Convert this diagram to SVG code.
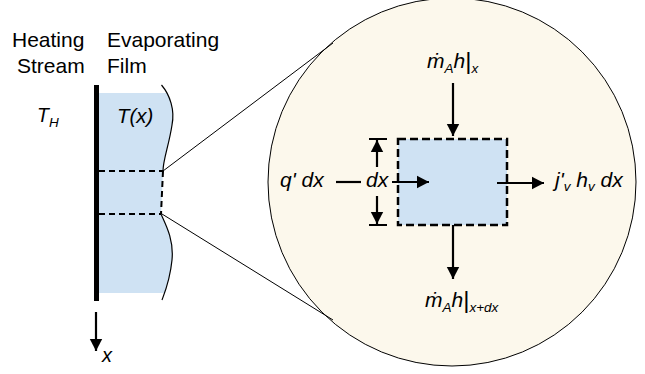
<svg xmlns="http://www.w3.org/2000/svg" width="645" height="374" viewBox="0 0 645 374">
<style>
.t{font-family:"Liberation Sans",Arial,sans-serif;fill:#000}
.i{font-style:italic}
.ln{stroke:#000;fill:none}
.dash{stroke:#000;fill:none;stroke-width:2;stroke-dasharray:6 4}
.arr{stroke:#000;stroke-width:2.2;fill:none;marker-end:url(#ah)}
</style>
<defs>
<marker id="ah" markerUnits="userSpaceOnUse" markerWidth="14" markerHeight="14" viewBox="0 0 14 14" refX="13" refY="7" orient="auto">
<path d="M1,0.8 L13,7 L1,13.2 Z" fill="#000"/>
</marker>
<clipPath id="fc"><rect x="90" y="93" width="100" height="200"/></clipPath>
</defs>
<rect width="645" height="374" fill="#fff"/>

<g id="headings">
<text class="t" x="12" y="47" font-size="21">Heating</text>
<text class="t" x="17" y="73" font-size="21">Stream</text>
<text class="t" x="107" y="47" font-size="21">Evaporating</text>
<text class="t" x="107" y="73" font-size="21">Film</text>
</g>

<g id="film">
<path d="M99,85 H161.5 C170,95 175,110 172,125 C169,145 163,160 163,171 L161,214 C166,225 174,240 172,260 C170,280 165,292 162,300 H99 Z" fill="#cfe2f3" clip-path="url(#fc)"/>
<path class="ln" stroke-width="1.2" d="M161.5,85 C170,95 175,110 172,125 C169,145 163,160 163,171"/>
<path class="ln" stroke-width="1.2" d="M161,214 C166,225 174,240 172,260 C170,280 165,292 162,300"/>
<path class="dash" d="M163,171 L161,214"/>
<path class="dash" d="M99,171 H163"/>
<path class="dash" d="M99,214 H161"/>
<line x1="96.5" y1="85" x2="96.5" y2="301" stroke="#000" stroke-width="5"/>
<text class="t i" x="37" y="122" font-size="19.5">T<tspan font-size="13.5" dy="5">H</tspan></text>
<text class="t i" x="117" y="123" font-size="20.5">T(x)</text>
</g>

<g id="zoom">
<circle cx="452" cy="182" r="184" fill="#fcf8ec" stroke="#000" stroke-width="1"/>
<line class="ln" x1="163" y1="171" x2="333" y2="43" stroke-width="1"/>
<line class="ln" x1="162" y1="214" x2="333" y2="320" stroke-width="1"/>
</g>

<g id="element">
<rect x="398" y="139" width="109" height="86" fill="#cfe2f3" stroke="#000" stroke-width="2.5" stroke-dasharray="8 4"/>
</g>

<g id="connectors">
<line class="arr" x1="453" y1="83" x2="453" y2="136"/>
<line class="arr" x1="453" y1="225" x2="453" y2="279"/>
<line class="ln" stroke-width="2.2" x1="336" y1="182" x2="361" y2="182"/>
<line class="arr" x1="392" y1="182" x2="429" y2="182"/>
<line class="arr" x1="497" y1="183" x2="544" y2="183"/>
<line class="arr" x1="377" y1="167" x2="377" y2="140"/>
<line class="arr" x1="377" y1="196" x2="377" y2="224"/>
<line class="ln" stroke-width="2" x1="369" y1="139" x2="387" y2="139"/>
<line class="ln" stroke-width="2" x1="369" y1="225" x2="387" y2="225"/>
<line class="arr" x1="96" y1="312" x2="96" y2="351"/>
</g>

<g id="labels">
<text class="t i" x="427" y="68" font-size="21">ṁ<tspan font-size="13.5" dy="5">A</tspan><tspan dy="-5">h</tspan><tspan font-style="normal" font-size="24" dy="1">|</tspan><tspan font-size="13.5" dy="4">x</tspan></text>
<text class="t i" x="425" y="307" font-size="21">ṁ<tspan font-size="13.5" dy="5">A</tspan><tspan dy="-5">h</tspan><tspan font-style="normal" font-size="24" dy="1">|</tspan><tspan font-size="13.5" dy="4">x+dx</tspan></text>
<text class="t i" x="280" y="187" font-size="21">q' dx</text>
<text class="t i" x="366" y="187" font-size="21">dx</text>
<text class="t i" x="555" y="187" font-size="21">j'<tspan font-size="13.5" dy="4">v</tspan><tspan dy="-4"> h</tspan><tspan font-size="13.5" dy="4">v</tspan><tspan dy="-4"> dx</tspan></text>
<text class="t i" x="102" y="362" font-size="20">x</text>
</g>
</svg>
